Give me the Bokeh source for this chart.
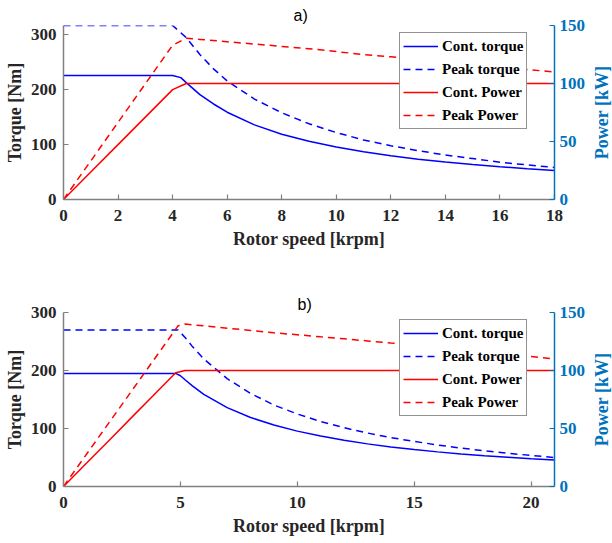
from bokeh.plotting import figure
from bokeh.models import Range1d, LinearAxis, Legend, LegendItem, FixedTicker, Title
from bokeh.layouts import column, row
from bokeh.core.properties import value
from bokeh.embed import file_html
from bokeh.resources import INLINE

# ---------------- data: panel a) ----------------
a_ct_speed = [0, 4.0, 4.3, 4.5, 5, 5.5, 6, 7, 8, 9, 10, 11, 12, 13, 14, 15, 16, 17, 18]
a_ct = [226, 226, 222, 213, 191, 174, 159, 136, 119, 106, 95.5, 87, 79.6, 73.5, 68.2, 63.7, 59.7, 56.2, 53]
a_pt_speed = [0, 4.0, 4.5, 5, 5.5, 6, 7, 8, 9, 10, 11, 12, 13, 14, 15, 16, 17, 18]
a_pt = [317, 317, 295, 264, 238, 216, 183, 158, 138, 122, 108.5, 98, 89, 81, 74.5, 68, 63, 58.4]
a_cp_speed = [0, 1, 2, 3, 4, 4.5, 18]
a_cp = [0, 23.7, 47.3, 71, 94.7, 100, 100]
a_pp_speed = [0, 4.0, 4.5, 5, 6, 7, 8, 9, 10, 11, 12, 13, 14, 15, 16, 17, 18]
a_pp = [0, 133, 139, 138, 136, 134, 132, 130, 127.5, 125, 123, 121, 119, 117, 114.5, 112, 110]
a_xticks = [0, 2, 4, 6, 8, 10, 12, 14, 16, 18]

# ---------------- data: panel b) ----------------
b_ct_speed = [0, 4.8, 5.0, 5.2, 5.5, 6, 7, 8, 9, 10, 11, 12, 13, 14, 15, 16, 17, 18, 19, 20, 21]
b_ct = [195, 195, 191, 184, 174, 159, 136, 119, 106, 95.5, 87, 79.6, 73.5, 68.2, 63.7, 59.7, 56.2, 53, 50.3, 47.7, 45.5]
b_pt_speed = [0, 4.9, 5.2, 5.5, 6, 7, 8, 9, 10, 11, 12, 13, 14, 15, 16, 17, 18, 19, 20, 21]
b_pt = [270, 270, 257, 242, 220, 186, 160.5, 140.5, 125, 112, 101.3, 92.2, 84.3, 77.7, 71.6, 66.2, 61.5, 57.4, 53.5, 50]
b_cp_speed = [0, 1, 2, 3, 4, 4.8, 5.2, 21]
b_cp = [0, 20.4, 40.8, 61.3, 81.7, 98, 100, 100]
b_pp_speed = [0, 4.9, 5.2, 6, 7, 8, 9, 10, 11, 12, 13, 14, 15, 16, 17, 18, 19, 20, 21]
b_pp = [0, 138.5, 140, 138.5, 136.5, 134.5, 132.5, 130.8, 129, 127.3, 125.5, 123.7, 122, 120, 118, 116, 114, 112, 110]
b_xticks = [0, 5, 10, 15, 20]

torque_ticks = [0, 100, 200, 300]
power_ticks = [0, 50, 100, 150]
power_max = 150
legend_labels = ["Cont. torque", "Peak torque", "Cont. Power", "Peak Power"]
power_label = "Power [kW]"

SERIF = "Liberation Serif"
AX_GRAY = "#808080"
TXT = "#262626"
PBLUE = "#0072BD"
DASH = "7 5"
MAIN_W = 590
SIDE_W = 22


def panel(tag, xmax, ymax, xticks, ct_s, ct, pt_s, pt, cp_s, cp, pp_s, pp,
          height, mb_bottom, mb_top, tag_offset, tag_standoff):
    p = figure(width=MAIN_W, height=height, output_backend="svg", toolbar_location=None,
               x_range=Range1d(0, xmax), y_range=Range1d(0, ymax),
               min_border_left=63, min_border_right=36,
               min_border_top=mb_top, min_border_bottom=mb_bottom)
    p.outline_line_color = None
    p.xgrid.visible = False
    p.ygrid.visible = False
    p.extra_y_ranges = {"power": Range1d(0, power_max)}

    p.title = Title(text=tag, align="left", text_font="Liberation Sans",
                    text_font_style="normal", text_font_size="16px",
                    text_color="#000000", standoff=tag_standoff, offset=tag_offset)

    r1 = p.line(ct_s, ct, line_color="#0000FF", line_width=1.5)
    r2 = p.line(pt_s, pt, line_color="#0000FF", line_width=1.5, line_dash=DASH)
    r3 = p.line(cp_s, cp, line_color="#FF0000", line_width=1.5, y_range_name="power")
    r4 = p.line(pp_s, pp, line_color="#FF0000", line_width=1.5, line_dash=DASH,
                y_range_name="power")

    rax = LinearAxis(y_range_name="power", ticker=FixedTicker(ticks=power_ticks))
    p.add_layout(rax, "right")

    for ax in (p.xaxis[0], p.yaxis[0], rax):
        ax.axis_line_color = AX_GRAY
        ax.axis_line_width = 1.5
        ax.major_tick_line_color = AX_GRAY
        ax.major_tick_line_width = 1.2
        ax.major_tick_in = 5
        ax.major_tick_out = 0
        ax.minor_tick_line_color = None
        ax.major_label_text_font = SERIF
        ax.major_label_text_font_style = "bold"
        ax.major_label_text_font_size = "17px"
        ax.major_label_text_color = TXT
        ax.axis_label_text_font = SERIF
        ax.axis_label_text_font_style = "bold"
        ax.axis_label_text_font_size = "18px"
        ax.axis_label_text_color = TXT

    p.xaxis[0].ticker = FixedTicker(ticks=xticks)
    p.yaxis[0].ticker = FixedTicker(ticks=torque_ticks)
    p.xaxis[0].major_label_standoff = 10
    p.xaxis[0].axis_label = "Rotor speed [krpm]"
    p.xaxis[0].axis_label_standoff = 5
    p.yaxis[0].major_label_standoff = 7
    p.yaxis[0].axis_label = "Torque [Nm]"
    p.yaxis[0].axis_label_standoff = 3

    rax.axis_line_color = PBLUE
    rax.major_tick_line_color = PBLUE
    rax.major_label_text_color = PBLUE
    rax.major_label_standoff = 5

    items = [LegendItem(label=legend_labels[0], renderers=[r1]),
             LegendItem(label=legend_labels[1], renderers=[r2]),
             LegendItem(label=legend_labels[2], renderers=[r3]),
             LegendItem(label=legend_labels[3], renderers=[r4])]
    leg = Legend(items=items, location=(336, 70), glyph_width=35, glyph_height=20,
                 spacing=3, padding=3, margin=0, label_standoff=4,
                 label_text_font=SERIF, label_text_font_style="bold",
                 label_text_font_size="15px", label_text_color="#000000",
                 border_line_color="#262626", border_line_width=1,
                 background_fill_color="white", background_fill_alpha=1.0)
    p.add_layout(leg, "center")

    # side strip carrying the right-hand axis title (reads bottom to top)
    s = figure(width=SIDE_W, height=height, output_backend="svg", toolbar_location=None,
               x_range=Range1d(0, 1), y_range=Range1d(0, power_max),
               x_axis_type=None, y_axis_type=None,
               min_border_left=0, min_border_right=0,
               min_border_top=mb_top, min_border_bottom=mb_bottom)
    s.outline_line_color = None
    s.xgrid.visible = False
    s.ygrid.visible = False
    s.text(x=[0.5], y=[power_max / 2], text=[power_label], angle=90, angle_units="deg",
           text_align="center", text_baseline="middle", text_font=value(SERIF),
           text_font_style="bold", text_font_size="18px", text_color=PBLUE)
    return row(p, s)


r_a = panel("a)", 18, 317, a_xticks, a_ct_speed, a_ct, a_pt_speed, a_pt,
            a_cp_speed, a_cp, a_pp_speed, a_pp,
            height=270, mb_bottom=71, mb_top=25, tag_offset=230, tag_standoff=3)
r_b = panel("b)", 21, 300, b_xticks, b_ct_speed, b_ct, b_pt_speed, b_pt,
            b_cp_speed, b_cp, b_pp_speed, b_pp,
            height=272, mb_bottom=56, mb_top=42, tag_offset=234, tag_standoff=0)

layout = column(r_a, r_b)
open("out.html", "w").write(file_html(layout, INLINE))
